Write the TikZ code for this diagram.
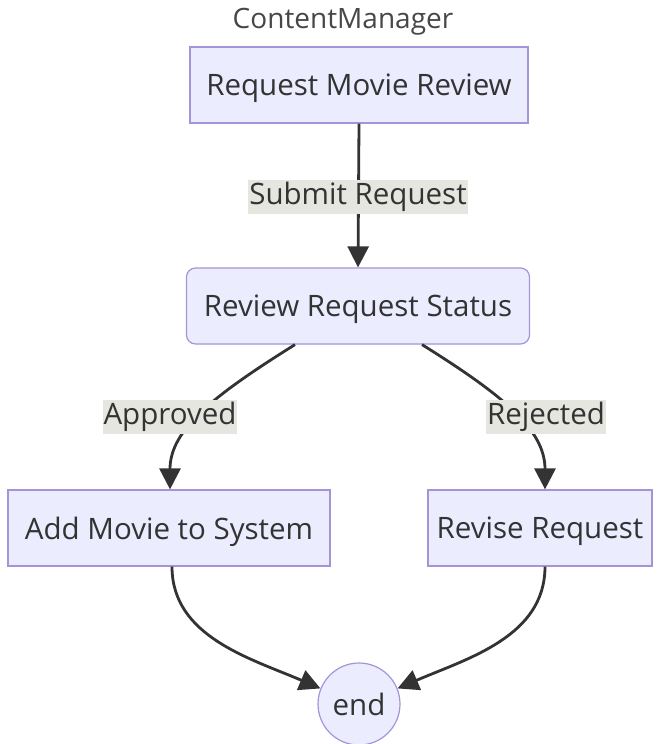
\documentclass[tikz,border=0pt]{standalone}
\usepackage{fontspec}
\setmainfont{Open Sans}
\usetikzlibrary{arrows.meta,calc}
\definecolor{boxfill}{HTML}{ECECFF}
\definecolor{boxline}{HTML}{A594D8}
\definecolor{txt}{HTML}{333333}
\definecolor{lblbg}{HTML}{E6E6E0}
\begin{document}
\begin{tikzpicture}[x=1pt,y=-1pt,
  every node/.style={font=\fontsize{29.5}{34}\selectfont, text=txt},
  proc/.style={draw=boxline, line width=1.2pt, fill=boxfill, minimum height=76pt, inner sep=0pt, text depth=0pt},
  lbl/.style={fill=lblbg, inner xsep=1pt, inner ysep=2pt, minimum height=31pt},
  flow/.style={draw=txt, line width=2.8pt, -{Triangle[length=21pt,width=21pt]}}]
\useasboundingbox (0,0) rectangle (657,744);
\node[font=\fontsize{28}{32}\selectfont, text=txt!90] (title) at (343,22) {ContentManager};
\node[proc, minimum width=338pt] (req) at (359,85) {Request Movie Review};
\node[proc, rounded corners=9pt, minimum width=343pt] (rev) at (358,306) {Review Request Status};
\node[proc, minimum width=322pt] (add) at (169,528) {Add Movie to System};
\node[proc, minimum width=224pt] (revise) at (540,528) {Revise Request};
\node[circle, draw=boxline, line width=1.2pt, fill=boxfill, minimum size=82pt, inner sep=0pt] (end) at (359,704) {end};

\draw[flow] (req.south) -- (rev.north);
\node[lbl] (l1) at (358,197) {Submit Request};

\draw[flow] ([xshift=-63pt]rev.south) .. controls +(-80,50) and +(0,-60) .. ([xshift=1pt]add.north);
\node[lbl] (l2) at (170,417) {Approved};

\draw[flow] ([xshift=64pt]rev.south) .. controls +(80,50) and +(0,-60) .. ([xshift=5pt]revise.north);
\node[lbl] (l3) at (546,417) {Rejected};

\draw[flow] ([xshift=3pt]add.south) .. controls +(0,70) and +(-70,-30) .. (end.158);
\draw[flow] ([xshift=5pt]revise.south) .. controls +(0,70) and +(70,-30) .. (end.22);
\end{tikzpicture}
\end{document}
